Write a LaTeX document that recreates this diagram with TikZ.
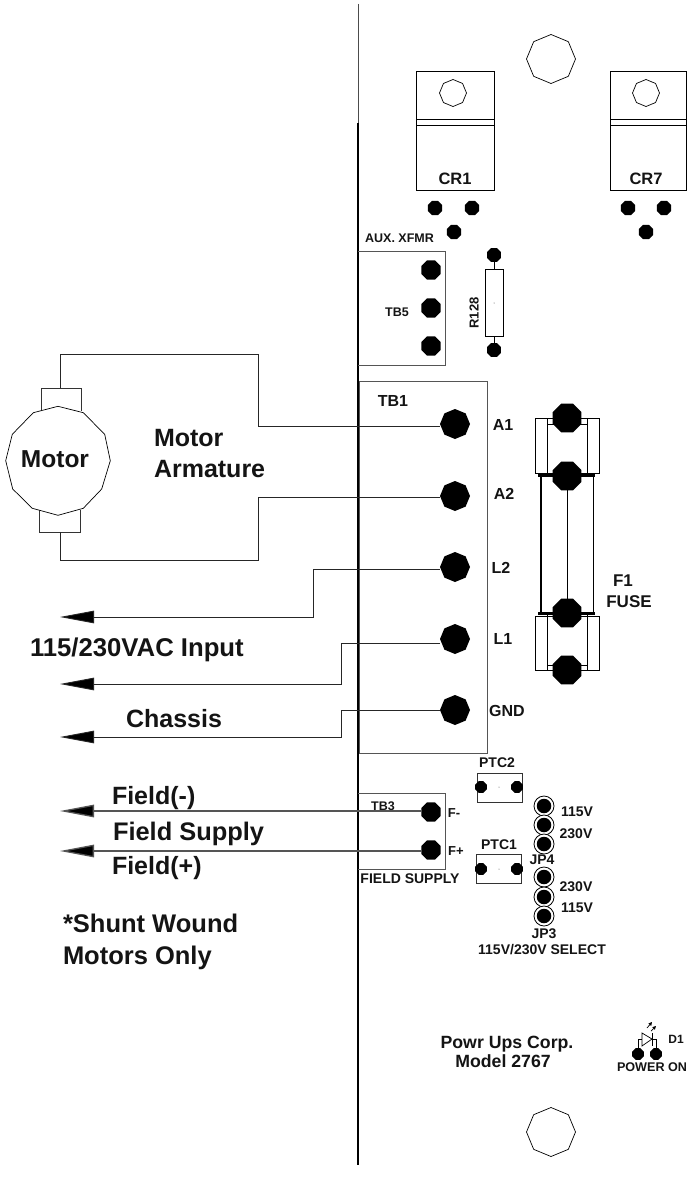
\documentclass[tikz,border=0pt]{standalone}
\usepackage{fontspec}
\setmainfont{Liberation Sans}
\usetikzlibrary{shapes.geometric,arrows.meta}
\definecolor{wiregray}{HTML}{555555}
\tikzset{
  txt/.style={font=\bfseries\fontsize{#1}{#1}\selectfont,inner sep=0pt,outer sep=0pt,text height=#1*0.72pt,text depth=0pt,text=black!92},
  ptxt/.style={txt=#1,anchor=west},
  wire/.style={draw=black!85,line width=0.9pt},
  fieldwire/.style={draw=wiregray,line width=1.3pt},
  arrowwire/.style={-{Triangle[length=34pt,width=12.5pt,fill=black]}},
  boxline/.style={draw=wiregray,line width=0.9pt,fill=none},
  thin part/.style={draw=black,line width=0.7pt},
  octv/.style={regular polygon,regular polygon sides=8,shape border rotate=22.5,inner sep=0pt,outer sep=0pt,minimum size=#1*1pt},
  octf/.style={regular polygon,regular polygon sides=8,inner sep=0pt,outer sep=0pt,minimum size=#1*1pt},
  holeoct/.style={octv=#1,draw=black,line width=0.7pt,fill=white},
  dotv/.style={octv=#1,fill=black},
  dotf/.style={octf=#1,fill=black},
  jumper/.style={circle,inner sep=0pt,minimum size=20pt,draw=black,line width=0.8pt,fill=white},
  jumpdot/.style={circle,inner sep=0pt,minimum size=14.5pt,fill=black},
}
\begin{document}
\begin{tikzpicture}[x=1pt,y=-1pt]
\useasboundingbox[fill=white] (0,0) rectangle (687,1193);

% board edge
\draw[draw=black!70,line width=0.9pt] (358,4) -- (358,123);
\draw[draw=black,line width=1.8pt] (358,123) -- (358,1165);

% mounting holes
\node[holeoct=49] (hole1) at (551,59) {};
\node[holeoct=49] (hole2) at (551,1132) {};

% CR1
\node[draw=black,line width=0.8pt,minimum width=78pt,minimum height=119pt,inner sep=0pt] (cr1) at (455,130.5) {};
\draw[thin part] (416,119) -- (494,119) (416,125) -- (494,125);
\node[holeoct=27] (cr1h) at (453,93) {};
\node[txt=16.5] (cr1t) at (455,179) {CR1};
\node[dotf=15.5] (cr1a) at (435,208) {};
\node[dotf=15.5] (cr1b) at (472,208) {};
\node[dotf=15.5] (cr1c) at (454,232) {};
% CR7
\node[draw=black,line width=0.8pt,minimum width=76pt,minimum height=119pt,inner sep=0pt] (cr7) at (648,130.5) {};
\draw[thin part] (610,119) -- (686,119) (610,125) -- (686,125);
\node[holeoct=27] (cr7h) at (646,93) {};
\node[txt=16.5] (cr7t) at (646,179) {CR7};
\node[dotf=15.5] (cr7a) at (628,208) {};
\node[dotf=15.5] (cr7b) at (664,208) {};
\node[dotf=15.5] (cr7c) at (646,232) {};

% TB5
\node[txt=12.5] (aux) at (399.5,238) {AUX. XFMR};
\draw[boxline] (358,251) -- (445,251) -- (445,365) -- (358,365);
\node[txt=12.5] (tb5) at (397,312) {TB5};
\node[dotf=21] (tb5a) at (431,270) {};
\node[dotf=21] (tb5b) at (431,308) {};
\node[dotf=21] (tb5c) at (431,346) {};

% R128
\node[draw=black,line width=0.7pt,minimum width=18pt,minimum height=67pt,inner sep=0pt] (r128) at (494,302.5) {};
\node[dotf=15] (r128a) at (494,255) {};
\node[dotf=15] (r128b) at (494,350) {};
\draw[thin part] (r128a) -- (r128.north) (r128.south) -- (r128b);
\node[circle,fill=black!70,inner sep=0pt,minimum size=1pt] (r128c) at (494,303) {};
\node[txt=13,rotate=90] (r128t) at (474,313) {R128};

% TB1
\node[boxline,draw,minimum width=128pt,minimum height=372pt,inner sep=0pt] (tb1) at (423,567) {};
\node[txt=16] (tb1t) at (393,401) {TB1};
\node[dotv=30] (dA1) at (455,424) {};
\node[dotv=30] (dA2) at (455,496) {};
\node[dotv=30] (dL2) at (455,567) {};
\node[dotv=30] (dL1) at (455,639) {};
\node[dotv=30] (dG) at (455,710) {};
\node[txt=16] (A1t) at (503,425) {A1};
\node[txt=16] (A2t) at (504,494) {A2};
\node[txt=16] (L2t) at (501,568) {L2};
\node[txt=16] (L1t) at (503,639) {L1};
\node[txt=16] (Gt) at (507,711) {GND};

% Fuse
\draw[thin part] (535,418) rectangle (599,473);
\draw[thin part] (535,616) rectangle (599,670);
\draw[thin part] (547,418) -- (547,473) (587,418) -- (587,473);
\draw[thin part] (547,424) -- (555,424) (579,424) -- (587,424);
\draw[thin part] (547,613) -- (547,670) (587,613) -- (587,670);
\draw[thin part] (547,665) -- (555,665) (579,665) -- (587,665);
\draw[draw=black,line width=1.5pt] (541,475) -- (541,613);
\draw[draw=black,line width=1pt] (593,475) -- (593,613);
\draw[draw=black,line width=3pt] (538,475) -- (595,475) (538,613) -- (595,613);
\node[dotf=31] (f1) at (567,418) {};
\node[dotf=31] (f2) at (567,476) {};
\node[dotf=31] (f3) at (567,613) {};
\node[dotf=31] (f4) at (567,670) {};
\draw[draw=black,line width=0.8pt] (f2) -- (f3);
\node[txt=17] (f1t) at (623,580) {F1};
\node[txt=17] (fuse) at (629,601) {FUSE};

% Motor
\draw[draw=black!80,line width=0.9pt] (41,411) -- (41,388) -- (81,388) -- (81,411);
\draw[draw=black!80,line width=0.9pt] (39,510) -- (39,532) -- (80,532) -- (80,510);
\draw[draw=black,line width=0.7pt,fill=white] (58,406.3) -- (83.3,412.7) -- (104.7,434.3) -- (110.3,460.7) -- (101.7,489) -- (83.3,508.3) -- (58,515.3) -- (32.3,508.3) -- (12.7,489) -- (5.7,460.7) -- (12.3,434.3) -- (33.3,412.7) -- cycle;
\node[txt=24.5] (motor) at (55,459) {Motor};
\node[ptxt=25] (ma1) at (154,437) {Motor};
\node[ptxt=25] (ma2) at (154,468) {Armature};

% Motor armature wires
\draw[wire] (60,388) -- (60,354) -- (258,354) -- (258,426) -- (dA1.west |- 0,426);
\draw[wire] (60,532) -- (60,560) -- (258,560) -- (258,497) -- (dA2.west |- 0,497);

% Input wires
\coordinate (tipL2) at (60,617);
\coordinate (tipL1) at (60,684);
\coordinate (tipG) at (60,737);
\coordinate (tipFm) at (60,811);
\coordinate (tipFp) at (60,851);
\draw[wire,arrowwire] (dL2.west |- 0,569) -- (313,569) -- (313,617) -- (tipL2);
\draw[wire,arrowwire] (dL1.west |- 0,643) -- (341,643) -- (341,684) -- (tipL1);
\draw[wire,arrowwire] (dG.west) -- (341,710) -- (341,737) -- (tipG);
\node[ptxt=25.7] (ac) at (30,647) {115/230VAC Input};
\node[txt=25] (chassis) at (174,718) {Chassis};

% TB3
\draw[boxline] (358,793) -- (445,793) -- (445,869) -- (358,869);
\node[txt=12.5] (tb3) at (383,806) {TB3};
\node[dotf=21] (fm) at (431,812) {};
\node[dotf=21] (fp) at (431,850) {};
\draw[fieldwire,arrowwire] (fm.west |- 0,811) -- (tipFm);
\draw[fieldwire,arrowwire] (fp.west |- 0,851) -- (tipFp);
\node[txt=13] (fmt) at (454,813) {F-};
\node[txt=13] (fpt) at (456,851) {F+};
\node[txt=14] (fs) at (410,878) {FIELD SUPPLY};
\node[ptxt=25] (f1a) at (112,795) {Field(-)};
\node[ptxt=25.4] (f2a) at (113,831) {Field Supply};
\node[ptxt=25] (f3a) at (112,865) {Field(+)};
\node[ptxt=25.5] (sh1) at (63,923) {*Shunt Wound};
\node[ptxt=25.5] (sh2) at (63,955) {Motors Only};

% PTC
\node[txt=14] (ptc2t) at (497,762) {PTC2};
\node[draw=black!80,line width=0.8pt,minimum width=45pt,minimum height=29pt,inner sep=0pt] (ptc2) at (499.5,787.5) {};
\node[dotf=12.5] (ptc2a) at (481,787) {};
\node[dotf=12.5] (ptc2b) at (517,787) {};
\node[circle,fill=black!70,inner sep=0pt,minimum size=1pt] (ptc2c) at (499,787) {};
\node[txt=14] (ptc1t) at (499,844) {PTC1};
\node[draw=black!80,line width=0.8pt,minimum width=45pt,minimum height=29pt,inner sep=0pt] (ptc1) at (498.5,868.5) {};
\node[dotf=12.5] (ptc1a) at (481,869) {};
\node[dotf=12.5] (ptc1b) at (517,869) {};
\node[circle,fill=black!70,inner sep=0pt,minimum size=1pt] (ptc1c) at (499,869) {};

% Jumpers
\foreach \n/\y in {a/806,b/825,c/844,d/877,e/897,f/916}{
  \node[jumper] (j\n) at (544,\y) {};
  \node[jumpdot] (k\n) at (544,\y) {};
}
\node[txt=14] (v1) at (577,811) {115V};
\node[txt=14] (v2) at (576,833) {230V};
\node[txt=14] (jp4) at (542,859) {JP4};
\node[txt=14] (v3) at (576,886) {230V};
\node[txt=14] (v4) at (577,907) {115V};
\node[txt=14] (jp3) at (544,933) {JP3};
\node[txt=14] (sel) at (542,949) {115V/230V SELECT};

% Company
\node[txt=17.7] (co1) at (507,1042) {Powr Ups Corp.};
\node[txt=17.7] (co2) at (503,1061) {Model 2767};

% LED
\node[dotf=12.5] (led1) at (638,1054) {};
\node[dotf=12.5] (led2) at (656,1054) {};
\draw[thin part] (led1) -- (638,1039) -- (642,1039);
\draw[thin part] (642,1033) -- (642,1046) -- (652,1039) -- cycle;
\draw[thin part] (652,1033) -- (652,1046);
\draw[thin part] (652,1039) -- (656,1039) -- (led2);
\coordinate (ra) at (647,1028); \coordinate (rb) at (652,1022);
\coordinate (rc) at (651,1031); \coordinate (rd) at (656,1026);
\draw[line width=0.7pt,-{Triangle[length=3.5pt,width=3.5pt]}] (ra) -- (rb);
\draw[line width=0.7pt,-{Triangle[length=3.5pt,width=3.5pt]}] (rc) -- (rd);
\node[txt=12] (d1t) at (676,1039) {D1};
\node[txt=12.6] (pon) at (652,1067) {POWER ON};
\end{tikzpicture}
\end{document}
